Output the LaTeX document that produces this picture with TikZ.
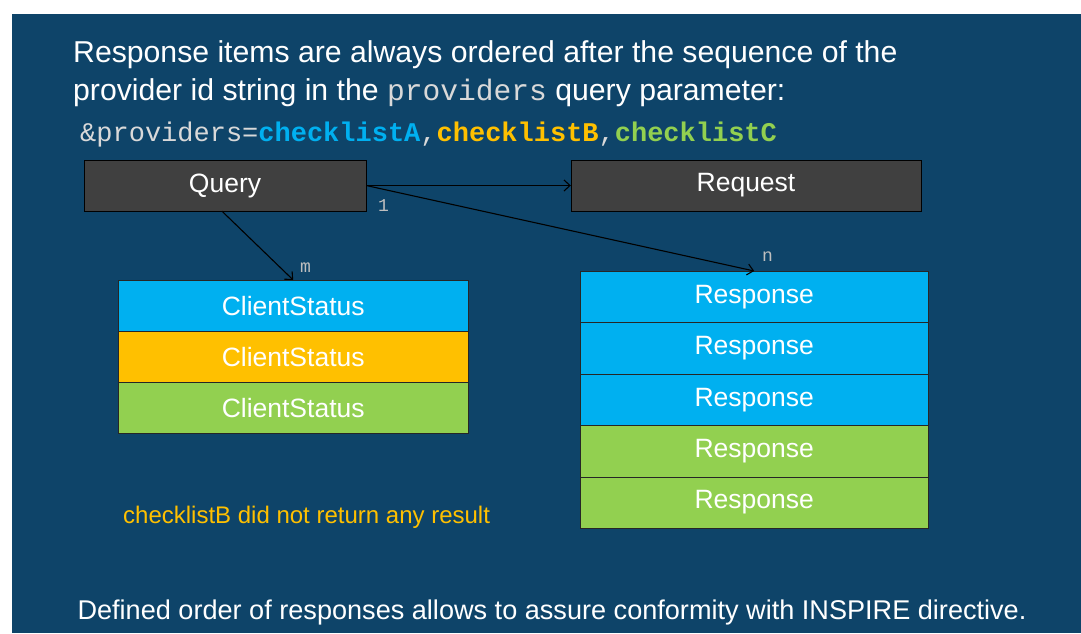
\documentclass[tikz,border=0pt]{standalone}
\usepackage{fontspec}
\setmainfont{Liberation Sans}
\setmonofont{Liberation Mono}
\usetikzlibrary{arrows.meta}
\definecolor{slide}{HTML}{0E4469}
\definecolor{boxgray}{HTML}{404040}
\definecolor{cblue}{HTML}{00B0F0}
\definecolor{corange}{HTML}{FFC000}
\definecolor{cgreen}{HTML}{92D050}
\definecolor{codegray}{HTML}{D9D9D9}
\definecolor{tagray}{HTML}{BFBFBF}

\begin{document}
\begin{tikzpicture}[x=1pt, y=-1pt,
    entity/.style={draw=black, fill=boxgray, text=white, minimum height=51pt,
        inner sep=0pt, font=\fontsize{26.5}{30}\selectfont},
    row/.style={draw=black!85, minimum height=51.4pt, text=white, inner sep=0pt,
        anchor=north west, font=\fontsize{26.5}{30}\selectfont},
    card/.style={text=tagray, anchor=base west, inner sep=0pt,
        font=\ttfamily\fontsize{18}{20}\selectfont},
    title/.style={text=white, anchor=base west, inner sep=0pt,
        font=\fontsize{30.2}{34}\selectfont},
    link/.style={-{Straight Barb[length=6pt,width=11pt]}, line width=1.1pt, black}]
\useasboundingbox (0,0) rectangle (1081,633);
\fill[white] (0,0) rectangle (1081,633);
\fill[slide] (12,14) rectangle (1081,633);

\node[title] (line1) at (73,62) {Response items are always ordered after the sequence of the};
\node[title] (line2) at (73,100) {provider id string in the {\color{codegray}\ttfamily\fontsize{29.6}{34}\selectfont providers} query parameter:};
\node[anchor=base west, inner sep=0pt, text=codegray, font=\ttfamily\fontsize{27}{30}\selectfont]
    (param) at (80,141) {\&providers={\bfseries\color{cblue}checklistA},{\bfseries\color{corange}checklistB},{\bfseries\color{cgreen}checklistC}};

\node[entity, minimum width=282pt] (query) at (225,185.5) {Query};
\node[entity, minimum width=350pt] (request) at (746,185.5) {Request};

\foreach \i/\c in {1/cblue, 2/corange, 3/cgreen}
{
    \node[row, fill=\c, minimum width=350pt] (cs\i) at (118,{229+51*\i}) {ClientStatus};
}
\foreach \i/\c in {1/cblue, 2/cblue, 3/cblue, 4/cgreen, 5/cgreen}
{
    \node[row, fill=\c, minimum width=348pt] (resp\i) at (580,{219.6+51.4*\i}) {Response};
}

\draw[link] (query.east) -- (request.west);
\draw[link] (query.east) -- (resp1.north);
\draw[link] ([xshift=-3pt]query.south) -- (cs1.north);

\node[card] (one) at (378,211) {1};
\node[card] (many) at (762,261) {n};
\node[card] (some) at (300,272) {m};

\node[anchor=base west, inner sep=0pt, text=corange, font=\fontsize{24}{28}\selectfont]
    (note) at (123,523) {checklistB did not return any result};
\node[anchor=base, inner sep=0pt, text=white, font=\fontsize{27.1}{30}\selectfont]
    (footer) at (552,619) {Defined order of responses allows to assure conformity with INSPIRE directive.};
\end{tikzpicture}
\end{document}
